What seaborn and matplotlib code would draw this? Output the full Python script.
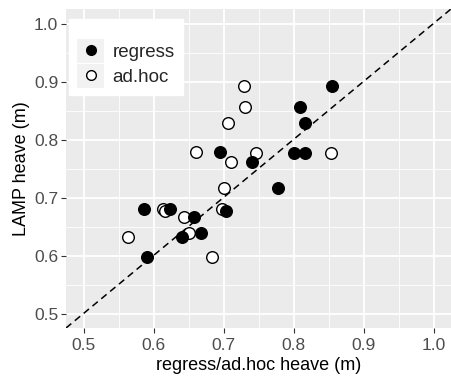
import matplotlib
matplotlib.use("Agg")
import matplotlib.pyplot as plt
from matplotlib.patches import Rectangle
from matplotlib.legend_handler import HandlerLine2D
from matplotlib.lines import Line2D
import seaborn as sns
import pandas as pd

# data
lamp_heave = [0.892, 0.856, 0.829, 0.778, 0.762, 0.777, 0.777, 0.716,
              0.681, 0.681, 0.677, 0.666, 0.632, 0.638, 0.598]
regress_heave = [0.855, 0.809, 0.817, 0.695, 0.740, 0.800, 0.816, 0.778,
                 0.587, 0.623, 0.703, 0.658, 0.640, 0.668, 0.590]
adhoc_heave = [0.729, 0.730, 0.707, 0.660, 0.710, 0.746, 0.853, 0.700,
               0.613, 0.698, 0.616, 0.644, 0.563, 0.650, 0.684]
series_names = ["regress", "ad.hoc"]
ticks = [0.5, 0.6, 0.7, 0.8, 0.9, 1.0]
tick_labels = ["0.5", "0.6", "0.7", "0.8", "0.9", "1.0"]

df = pd.DataFrame({
    "x": regress_heave + adhoc_heave,
    "y": lamp_heave + lamp_heave,
    "method": [series_names[0]] * len(regress_heave) + [series_names[1]] * len(adhoc_heave),
})

sns.set_style("white")
plt.rcParams["font.family"] = ["Liberation Sans", "DejaVu Sans"]

fig = plt.figure(figsize=(4.51, 3.77), dpi=100)
ax = fig.add_axes([66 / 451, 1 - 328 / 377, 385 / 451, 319 / 377])
ax.set_facecolor("#EBEBEB")

ms = 70
sns.scatterplot(data=df[df.method == series_names[1]], x="x", y="y", ax=ax,
                s=ms, facecolor="white", edgecolor="black", linewidth=1.0,
                legend=False, zorder=3)
sns.scatterplot(data=df[df.method == series_names[0]], x="x", y="y", ax=ax,
                s=ms, color="black", edgecolor="black", linewidth=1.0,
                legend=False, zorder=4)

ax.axline((0.5, 0.5), slope=1, color="black", linestyle=(0, (4.5, 3)),
          linewidth=1.1, zorder=2)

lo, hi = 0.475, 1.025
ax.set_xlim(lo, hi)
ax.set_ylim(lo, hi)
ax.set_xticks(ticks)
ax.set_xticklabels(tick_labels)
ax.set_yticks(ticks)
ax.set_yticklabels(tick_labels)
minor = [0.55, 0.65, 0.75, 0.85, 0.95]
ax.set_xticks(minor, minor=True)
ax.set_yticks(minor, minor=True)
ax.grid(True, which="major", color="white", linewidth=1.3, zorder=0)
ax.grid(True, which="minor", color="white", linewidth=0.6, zorder=0)
ax.set_axisbelow(True)
for s in ax.spines.values():
    s.set_visible(False)
ax.tick_params(axis="both", which="major", length=3.5, width=0.8, color="#333333",
               labelsize=12.5, labelcolor="#4D4D4D", direction="out",
               bottom=True, left=True)
ax.tick_params(axis="x", which="major", pad=3.5)
ax.tick_params(axis="y", which="major", pad=2)
ax.tick_params(axis="both", which="minor", length=0)
ax.set_xlabel("regress/ad.hoc heave (m)", fontsize=13, color="black", labelpad=3)
ax.set_ylabel("LAMP heave (m)", fontsize=13, color="black", labelpad=3)


class KeyHandler(HandlerLine2D):
    def create_artists(self, legend, orig_handle, xdescent, ydescent,
                       width, height, fontsize, trans):
        arts = super().create_artists(legend, orig_handle, xdescent, ydescent,
                                      width, height, fontsize, trans)
        pad = 0.5 * (legend.labelspacing * fontsize)
        bg = Rectangle((-xdescent, -ydescent - pad), width, height + 2 * pad,
                       facecolor="#F2F2F2", edgecolor="none", transform=trans)
        return [bg] + list(arts)


h_reg = Line2D([], [], linestyle="none", marker="o", markersize=7,
               markerfacecolor="black", markeredgecolor="black")
h_adh = Line2D([], [], linestyle="none", marker="o", markersize=7,
               markerfacecolor="white", markeredgecolor="black")
leg = ax.legend([h_reg, h_adh], series_names, loc="upper left",
                bbox_to_anchor=(3 / 385, 1 - 10 / 319), borderaxespad=0,
                frameon=True, fancybox=False, framealpha=1,
                facecolor="white", edgecolor="white", fontsize=13.5,
                title=" ", title_fontsize=6.5,
                handlelength=1.44, handleheight=1.1, labelspacing=0.3,
                handletextpad=0.43, borderpad=0.45,
                handler_map={Line2D: KeyHandler()})
leg.set_zorder(6)

fig.savefig("out.png", dpi=100)
